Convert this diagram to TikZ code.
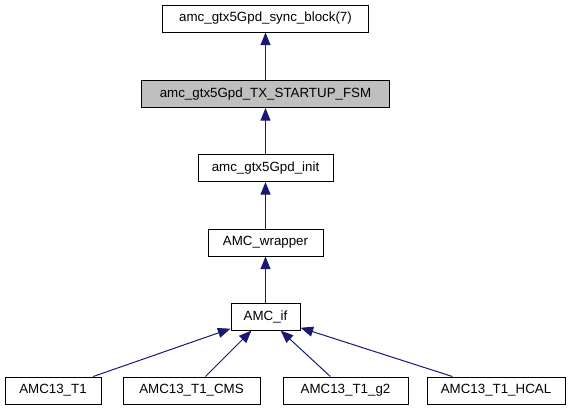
\documentclass[tikz,border=0pt]{standalone}
\usepackage{fontspec}
\setmainfont{Liberation Sans}
\usetikzlibrary{arrows.meta}
\definecolor{edgeblue}{HTML}{191970}
\definecolor{fsmgray}{HTML}{BFBFBF}
\tikzset{
  box/.style={draw, line width=0.75pt, minimum height=20.25pt, inner sep=0pt, font=\fontsize{10}{12}\selectfont},
  edge/.style={draw=edgeblue, line width=0.75pt, -{Triangle[length=9.5pt, width=7.5pt, fill=edgeblue]}}
}
\begin{document}
\begin{tikzpicture}[x=0.75pt, y=-0.75pt]
                \useasboundingbox (0,0) rectangle (570,411);
                \node[box, minimum width=154.5pt] (sync) at (265.5,18.5) {amc\_gtx5Gpd\_sync\_block(7)};
                \node[box, minimum width=186pt, fill=fsmgray] (fsm) at (265.5,94) {amc\_gtx5Gpd\_TX\_STARTUP\_FSM};
                \node[box, minimum width=101.25pt] (init) at (265.5,168) {amc\_gtx5Gpd\_init};
                \node[box, minimum width=86.25pt] (wrapper) at (265.5,242.5) {AMC\_wrapper};
                \node[box, minimum width=51.75pt] (amcif) at (265.5,316.5) {AMC\_if};
                \node[box, minimum width=72pt] (t1) at (53,390.5) {AMC13\_T1};
                \node[box, minimum width=102.75pt] (cms) at (191.5,390.5) {AMC13\_T1\_CMS};
                \node[box, minimum width=93.75pt] (gtwo) at (345.5,390.5) {AMC13\_T1\_g2};
                \node[box, minimum width=103.5pt] (hcal) at (496,390.5) {AMC13\_T1\_HCAL};
                \draw[edge] (fsm) -- (sync);
                \draw[edge] (init) -- (fsm);
                \draw[edge] (wrapper) -- (init);
                \draw[edge] (amcif) -- (wrapper);
                \draw[edge] (t1) -- (amcif);
                \draw[edge] (cms) -- (amcif);
                \draw[edge] (gtwo) -- (amcif);
                \draw[edge] (hcal) -- (amcif);
            \end{tikzpicture}
\end{document}
